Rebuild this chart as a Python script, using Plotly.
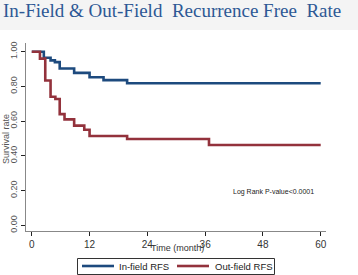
import plotly.graph_objects as go

# Data
months_in = [0, 2.5, 3.9, 4.8, 5.8, 8.8, 12.0, 14.9, 19.8, 60]
surv_in = [1.0, 0.965, 0.95, 0.94, 0.903, 0.878, 0.853, 0.836, 0.818, 0.818]
months_out = [0, 1.7, 2.8, 3.9, 4.9, 5.8, 6.8, 8.8, 10.9, 12.0, 19.8, 36.8, 60]
surv_out = [1.0, 0.96, 0.834, 0.74, 0.727, 0.64, 0.61, 0.574, 0.55, 0.514, 0.497, 0.462, 0.462]
series_names = ["In-field RFS", "Out-field RFS"]
x_ticks = [0, 12, 24, 36, 48, 60]
y_ticks = [0, 0.2, 0.4, 0.6, 0.8, 1.0]
y_ticklabels = ["0.00", "0.20", "0.40", "0.60", "0.80", "1.00"]

W, H = 358, 275
L, R, T, B = 26, 32, 43, 44
C_IN, C_OUT = "#1d4a7e", "#93323c"

def py(px):
    return (H - B - px) / (H - T - B)

def px_x(px):
    return (px - L) / (W - L - R)

fig = go.Figure()
fig.add_trace(go.Scatter(x=months_in, y=surv_in, mode="lines", line_shape="hv",
                         line=dict(color=C_IN, width=2.6), name=series_names[0]))
fig.add_trace(go.Scatter(x=months_out, y=surv_out, mode="lines", line_shape="hv",
                         line=dict(color=C_OUT, width=2.6), name=series_names[1]))

legend_y = py(266)
shapes = [
    dict(type="rect", xref="paper", yref="paper", x0=px_x(0), x1=px_x(W),
         y0=py(30), y1=py(0), fillcolor="#f4f4f4", line=dict(width=0), layer="below"),
    dict(type="rect", xref="paper", yref="paper", x0=px_x(77.5), x1=px_x(274.5),
         y0=py(274.5), y1=py(258.5), fillcolor="white", line=dict(color="#333", width=1)),
    dict(type="line", xref="paper", yref="paper", x0=px_x(82), x1=px_x(114),
         y0=legend_y, y1=legend_y, line=dict(color=C_IN, width=2.6)),
    dict(type="line", xref="paper", yref="paper", x0=px_x(177), x1=px_x(209),
         y0=legend_y, y1=legend_y, line=dict(color=C_OUT, width=2.6)),
]

fig.update_layout(
    width=W, height=H,
    margin=dict(l=L, r=R, t=T, b=B, autoexpand=False),
    paper_bgcolor="white", plot_bgcolor="white",
    font=dict(family="Liberation Sans, Arial", size=9, color="#444"),
    showlegend=False,
    xaxis=dict(range=[-1.2, 61.1], tickvals=x_ticks, ticks="outside", ticklen=4,
               tickcolor="#222", showline=True, linecolor="#888", linewidth=1,
               showgrid=False, zeroline=False, automargin=False,
               tickfont=dict(size=10, color="#333")),
    yaxis=dict(range=[-0.033, 1.05], tickvals=y_ticks, ticktext=y_ticklabels,
               ticks="outside", ticklen=4, tickcolor="#222", tickangle=-90,
               showline=True, linecolor="#888", linewidth=1, showgrid=False,
               zeroline=False, automargin=False, tickfont=dict(size=9, color="#555")),
    shapes=shapes,
    annotations=[
        dict(text="In-Field &amp; Out-Field  Recurrence Free  Rate", xref="paper", yref="paper",
             x=px_x(1), y=py(10), xanchor="left", yanchor="middle", showarrow=False,
             font=dict(family="Liberation Serif, DejaVu Serif", size=19, color="#2d5895")),
        dict(text="Time (month)", xref="paper", yref="paper", x=px_x(177), y=py(248),
             xanchor="center", yanchor="middle", showarrow=False,
             font=dict(size=9, color="#333")),
        dict(text="Survival rate", xref="paper", yref="paper", x=px_x(6), y=py(139),
             xanchor="center", yanchor="middle", showarrow=False, textangle=-90,
             font=dict(size=9, color="#555")),
        dict(text="Log Rank P-value&lt;0.0001", xref="x", yref="y", x=59.0, y=0.19,
             xanchor="right", yanchor="middle", showarrow=False,
             font=dict(size=7, color="#222")),
        dict(text=series_names[0], xref="paper", yref="paper", x=px_x(117), y=legend_y,
             xanchor="left", yanchor="middle", showarrow=False,
             font=dict(size=9.5, color="#222")),
        dict(text=series_names[1], xref="paper", yref="paper", x=px_x(213), y=legend_y,
             xanchor="left", yanchor="middle", showarrow=False,
             font=dict(size=9.5, color="#222")),
    ],
)

fig.write_html("out.html", config={"displayModeBar": False},
               post_script="document.body.style.margin='0';")
